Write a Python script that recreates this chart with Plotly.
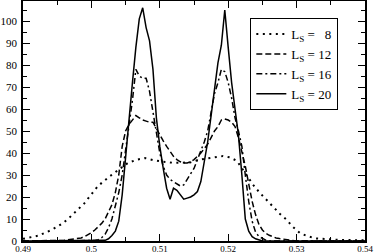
import plotly.graph_objects as go

# ---- data ----
x_l8 = [0.49, 0.49127, 0.49224, 0.49311, 0.49409, 0.49501, 0.49589, 0.49668, 0.49746, 0.49823,
        0.49896, 0.49961, 0.50028, 0.50096, 0.50272, 0.50418, 0.50535, 0.50667, 0.50784, 0.50900,
        0.51047, 0.51222, 0.51442, 0.51588, 0.51719, 0.51836, 0.51924, 0.52026, 0.52129, 0.52202,
        0.52275, 0.52377, 0.52465, 0.52567, 0.52670, 0.52757, 0.52860, 0.52933, 0.53050, 0.53152,
        0.53269, 0.53415, 0.53635, 0.54]
y_l8 = [1.0, 1.7, 2.4, 3.6, 4.9, 6.5, 8.2, 10.3, 12.7, 14.9,
        17.1, 19.7, 22.3, 25.0, 29.5, 33.0, 35.5, 37.0, 37.7, 36.8,
        36.0, 35.5, 35.7, 37.0, 37.7, 38.4, 38.6, 38.0, 36.4, 33.0,
        29.5, 25.0, 21.8, 18.5, 15.0, 12.3, 9.5, 6.8, 3.6, 2.3,
        1.2, 0.8, 0.5, 0.3]

x_l12 = [0.49, 0.495, 0.4955, 0.496, 0.4965, 0.497, 0.4975, 0.498, 0.4985, 0.499, 0.4995,
         0.500, 0.5005, 0.501, 0.5015, 0.502, 0.5025, 0.503, 0.5035, 0.504, 0.5045,
         0.505, 0.5055, 0.506, 0.5065, 0.507, 0.5075, 0.508, 0.5085, 0.509, 0.5095,
         0.510, 0.5105, 0.511, 0.5115, 0.512, 0.5125, 0.513, 0.5135, 0.514, 0.5145,
         0.515, 0.5155, 0.516, 0.5165, 0.517, 0.5175, 0.518, 0.5185, 0.519, 0.5195,
         0.520, 0.5205, 0.521, 0.5215, 0.522, 0.5225, 0.523, 0.5235, 0.524, 0.5245,
         0.525, 0.5255, 0.526, 0.5265, 0.527, 0.5275, 0.528, 0.5285, 0.529, 0.530, 0.54]
y_l12 = [0, 0, 0.2, 0.3, 0.5, 0.7, 1.0, 1.2, 1.4, 2.0, 2.8,
         3.8, 5.0, 6.5, 8.0, 10.0, 13.0, 16.5, 22.0, 30.0, 43.0,
         50.0, 53.0, 55.0, 57.0, 56.0, 55.0, 54.5, 54.0, 54.0, 51.0,
         48.0, 45.5, 43.0, 40.5, 38.5, 37.0, 36.0, 35.5, 35.5, 36.0,
         37.0, 38.5, 40.0, 42.0, 44.0, 47.0, 50.0, 52.0, 55.0, 55.5,
         55.0, 54.0, 52.0, 47.0, 41.0, 34.0, 26.0, 18.0, 12.0, 7.5,
         5.0, 3.5, 2.6, 1.9, 1.4, 1.1, 0.9, 0.6, 0.3, 0, 0]

x_l16 = [0.49, 0.500, 0.5005, 0.501, 0.5015, 0.502, 0.5025, 0.503, 0.5035, 0.504, 0.5045,
         0.505, 0.5055, 0.506, 0.5065, 0.507, 0.5075, 0.508, 0.5085, 0.509, 0.5095,
         0.510, 0.5105, 0.511, 0.5115, 0.512, 0.5125, 0.513, 0.5135, 0.514, 0.5145,
         0.515, 0.5155, 0.516, 0.5165, 0.517, 0.5175, 0.518, 0.5185, 0.519, 0.5195,
         0.520, 0.5205, 0.521, 0.5215, 0.522, 0.5225, 0.523, 0.5235, 0.524, 0.5245,
         0.525, 0.5255, 0.526, 0.54]
y_l16 = [0, 0, 0.2, 0.6, 1.5, 3.0, 6.0, 10.0, 16.0, 22.0, 30.0,
         41.0, 52.0, 64.0, 78.0, 75.0, 74.0, 74.0, 68.0, 59.0, 48.0,
         40.0, 34.0, 30.0, 28.0, 27.0, 26.0, 25.0, 25.5, 28.0, 30.0,
         33.0, 37.0, 41.0, 45.0, 50.0, 59.0, 67.0, 72.0, 78.0, 77.0,
         72.0, 65.0, 56.0, 50.0, 43.0, 30.0, 18.0, 9.0, 4.0, 2.0,
         1.0, 0.4, 0, 0]

x_l20 = [0.49, 0.5015, 0.502, 0.5025, 0.503, 0.5035, 0.504, 0.5045,
         0.505, 0.5055, 0.506, 0.5065, 0.507, 0.5075, 0.508, 0.5085, 0.509, 0.5095,
         0.510, 0.5105, 0.511, 0.5115, 0.512, 0.5125, 0.513, 0.5135, 0.514, 0.5145,
         0.515, 0.5155, 0.516, 0.5165, 0.517, 0.5175, 0.518, 0.5185, 0.519, 0.5195,
         0.520, 0.5205, 0.521, 0.5215, 0.522, 0.5225, 0.523, 0.5235, 0.524, 0.5245,
         0.525, 0.54]
y_l20 = [0, 0, 0.3, 1.0, 2.5, 4.5, 9.0, 21.0,
         38.0, 58.0, 72.0, 88.0, 101.0, 106.0, 97.0, 91.0, 78.0, 56.0,
         43.0, 33.0, 24.0, 19.0, 24.0, 23.0, 21.0, 19.0, 19.5, 20.0,
         21.0, 22.5, 27.0, 36.0, 45.0, 57.0, 70.0, 81.0, 89.0, 105.0,
         88.0, 72.0, 60.0, 48.0, 30.0, 10.0, 4.5, 2.0, 1.0, 0.4,
         0, 0]

names = ["L<sub>S</sub> = \u20078", "L<sub>S</sub> = 12", "L<sub>S</sub> = 16", "L<sub>S</sub> = 20"]
dashes = ["2px,4.5px", "6px,3px", "6px,3px,2px,3px", "solid"]
widths = [2, 1.5, 1.5, 1.5]

FONT = "Liberation Serif, Times New Roman, serif"

fig = go.Figure()
for xs, ys, nm, ds, w in zip([x_l8, x_l12, x_l16, x_l20], [y_l8, y_l12, y_l16, y_l20],
                             names, dashes, widths):
    fig.add_trace(go.Scatter(x=xs, y=ys, mode="lines", name=nm,
                             line=dict(color="black", width=w, dash=ds)))

axis_common = dict(showline=True, linecolor="black", linewidth=1.5, mirror="allticks",
                   ticks="inside", ticklen=7, tickwidth=1, tickcolor="black",
                   showgrid=False, zeroline=False, automargin=False)

fig.update_xaxes(range=[0.49, 0.54], tick0=0.49, dtick=0.01,
                 minor=dict(ticks="inside", ticklen=4, dtick=0.005, tick0=0.49, tickcolor="black"),
                 ticklabelstandoff=-2, tickfont=dict(family=FONT, size=9, color="black"),
                 **axis_common)
fig.update_yaxes(range=[0, 109.1], tick0=0, dtick=10,
                 minor=dict(ticks="inside", ticklen=4, dtick=5, tick0=0, tickcolor="black"),
                 ticklabelstandoff=2, tickfont=dict(family=FONT, size=11, color="black"),
                 **axis_common)

fig.update_layout(
    width=374, height=252,
    margin=dict(l=23, r=9, t=1, b=11),
    paper_bgcolor="white", plot_bgcolor="white",
    font=dict(family=FONT, color="black"),
    showlegend=True,
    legend=dict(x=0.922, xanchor="right", y=0.929, yanchor="top",
                bgcolor="white", bordercolor="black", borderwidth=1,
                font=dict(family=FONT, size=13, color="black"),
                itemwidth=30, tracegroupgap=0),
)

fig.write_html("out.html", config={"displayModeBar": False},
               post_script="document.body.style.margin='0';document.body.style.overflow='hidden';")
